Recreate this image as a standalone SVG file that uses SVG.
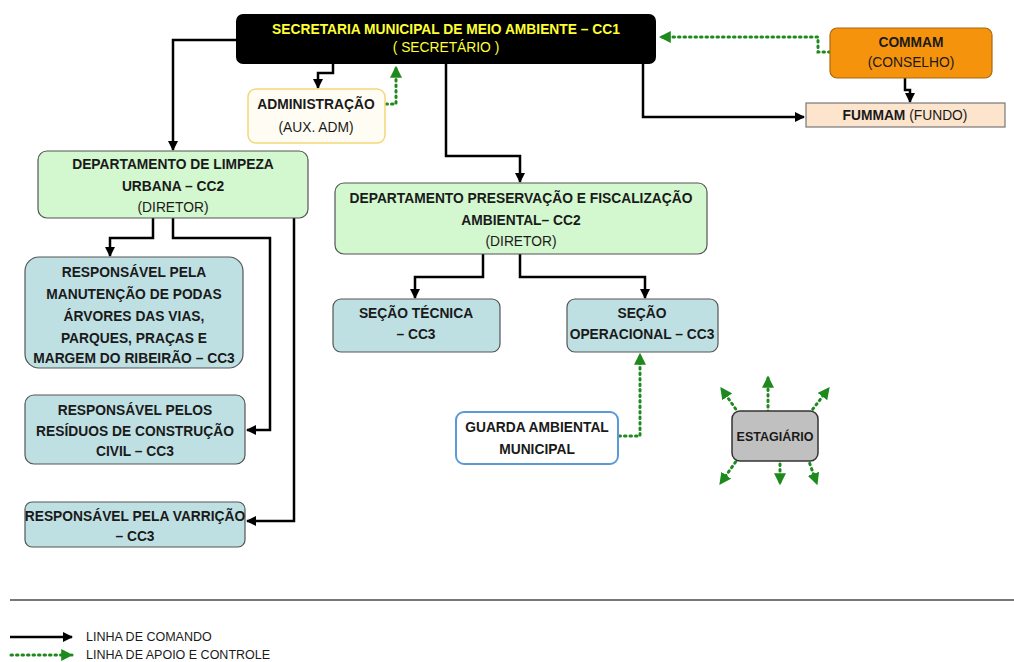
<svg xmlns="http://www.w3.org/2000/svg" width="1014" height="662" viewBox="0 0 1014 662">
<defs>
<style>
text{font-family:"Liberation Sans",Arial,sans-serif;font-size:13.8px;text-anchor:middle;fill:#1a1a1a}
.b{font-weight:bold}
.cmd{fill:none;stroke:#000;stroke-width:2.5;marker-end:url(#ab)}
.sup{fill:none;stroke:#1e8a1e;stroke-width:3;stroke-dasharray:1.5 4;stroke-linecap:round;marker-end:url(#ag)}
.blue{fill:#bfe0e3;stroke:#555;stroke-width:1.2}
.green{fill:#d3f7cf;stroke:#555;stroke-width:1.2}
</style>
<marker id="ab" viewBox="0 0 10 10" refX="9" refY="5" markerWidth="4" markerHeight="4" orient="auto" markerUnits="strokeWidth"><path d="M0,0 L10,5 L0,10 z" fill="#000"/></marker>
<marker id="ag" viewBox="0 0 10 10" refX="9" refY="5" markerWidth="4" markerHeight="4" orient="auto" markerUnits="strokeWidth"><path d="M0,0 L10,5 L0,10 z" fill="#1e8a1e"/></marker>
</defs>
<rect width="1014" height="662" fill="#fff"/>

<g id="connectors">
<path class="cmd" d="M236,40 H173 V150"/>
<path class="cmd" d="M333,64 V73 H318 V88"/>
<path class="sup" d="M386,104 H396 V67"/>
<path class="sup" d="M830,52 H818 V37 H660"/>
<path class="cmd" d="M643,64 V117 H804"/>
<path class="cmd" d="M905,78 V90 H910 V102"/>
<path class="cmd" d="M446,64 V156 H520 V182"/>
<path class="cmd" d="M153,218 V238 H110 V256"/>
<path class="cmd" d="M173,218 V238 H270 V430 H247"/>
<path class="cmd" d="M294,205 V521 H247"/>
<path class="cmd" d="M483,254 V277 H415 V298"/>
<path class="cmd" d="M520,254 V277 H645 V298"/>
<path class="sup" d="M619,436 H640 V354"/>
<path class="sup" d="M742,418 L721,388"/>
<path class="sup" d="M768,418 V377"/>
<path class="sup" d="M806,418 L829,388"/>
<path class="sup" d="M742,453 L720,484"/>
<path class="sup" d="M780,453 V484"/>
<path class="sup" d="M806,453 L817,484"/>
</g>

<g id="secretaria">
<rect x="236" y="14" width="420" height="50" rx="7" fill="#000"/>
<text x="446" y="34" class="b" style="fill:#ffff33">SECRETARIA MUNICIPAL DE MEIO AMBIENTE – CC1</text>
<text x="446" y="52" style="fill:#ffff33">( SECRETÁRIO )</text>
</g>

<g id="administracao">
<rect x="248" y="89" width="137" height="54" rx="8" fill="#fffdf3" stroke="#f5d77a" stroke-width="1.5"/>
<text x="316" y="109" class="b">ADMINISTRAÇÃO</text>
<text x="316" y="132">(AUX. ADM)</text>
</g>

<g id="commam">
<rect x="830" y="28" width="162" height="50" rx="7" fill="#f5930c" stroke="#a86a10" stroke-width="1.2"/>
<text x="911" y="47" class="b">COMMAM</text>
<text x="911" y="67">(CONSELHO)</text>
</g>

<g id="fummam">
<rect x="806" y="103" width="199" height="24" fill="#fce4cd" stroke="#777" stroke-width="1.2"/>
<text x="905" y="120"><tspan class="b">FUMMAM</tspan> (FUNDO)</text>
</g>

<g id="limpeza">
<rect x="38" y="151" width="270" height="67" rx="9" class="green"/>
<text x="173" y="169" class="b">DEPARTAMENTO DE LIMPEZA</text>
<text x="173" y="191" class="b">URBANA – CC2</text>
<text x="173" y="212">(DIRETOR)</text>
</g>

<g id="preservacao">
<rect x="335" y="183" width="372" height="71" rx="9" class="green"/>
<text x="521" y="203" class="b">DEPARTAMENTO PRESERVAÇÃO E FISCALIZAÇÃO</text>
<text x="521" y="225" class="b">AMBIENTAL– CC2</text>
<text x="521" y="246">(DIRETOR)</text>
</g>

<g id="podas">
<rect x="25" y="257" width="218" height="111" rx="14" class="blue"/>
<text x="134" y="277" class="b">RESPONSÁVEL PELA</text>
<text x="134" y="299" class="b">MANUTENÇÃO DE PODAS</text>
<text x="134" y="321" class="b">ÁRVORES DAS VIAS,</text>
<text x="134" y="343" class="b">PARQUES, PRAÇAS E</text>
<text x="134" y="363" class="b">MARGEM DO RIBEIRÃO – CC3</text>
</g>

<g id="residuos">
<rect x="25" y="395" width="220" height="69" rx="9" class="blue"/>
<text x="135" y="415" class="b">RESPONSÁVEL PELOS</text>
<text x="135" y="436" class="b">RESÍDUOS DE CONSTRUÇÃO</text>
<text x="135" y="456" class="b">CIVIL – CC3</text>
</g>

<g id="varricao">
<rect x="25" y="502" width="220" height="45" rx="7" class="blue"/>
<text x="135" y="521" class="b">RESPONSÁVEL PELA VARRIÇÃO</text>
<text x="135" y="541" class="b">– CC3</text>
</g>

<g id="tecnica">
<rect x="333" y="299" width="167" height="53" rx="8" class="blue"/>
<text x="416" y="318" class="b">SEÇÃO TÉCNICA</text>
<text x="416" y="339" class="b">– CC3</text>
</g>

<g id="operacional">
<rect x="567" y="299" width="151" height="53" rx="8" class="blue"/>
<text x="642" y="318" class="b">SEÇÃO</text>
<text x="642" y="339" class="b">OPERACIONAL – CC3</text>
</g>

<g id="guarda">
<rect x="456" y="412" width="162" height="52" rx="8" fill="#fff" stroke="#5b9bd5" stroke-width="2"/>
<text x="537" y="432" class="b">GUARDA AMBIENTAL</text>
<text x="537" y="454" class="b">MUNICIPAL</text>
</g>

<g id="estagiario">
<rect x="732" y="411" width="86" height="50" rx="8" fill="#c0c0c0" stroke="#333" stroke-width="1.5"/>
<text x="775" y="441" class="b" style="font-size:12.5px">ESTAGIÁRIO</text>
</g>

<g id="legend">
<line x1="10" y1="600" x2="1014" y2="600" stroke="#777" stroke-width="2"/>
<path d="M10,637 H72" fill="none" stroke="#000" stroke-width="2.5" marker-end="url(#ab)"/>
<path d="M11,655 H72" fill="none" stroke="#1e8a1e" stroke-width="3" stroke-dasharray="1.5 4" stroke-linecap="round" marker-end="url(#ag)"/>
<text x="86" y="641" style="text-anchor:start;font-size:12.5px">LINHA DE COMANDO</text>
<text x="86" y="659" style="text-anchor:start;font-size:12.5px">LINHA DE APOIO E CONTROLE</text>
</g>
</svg>
